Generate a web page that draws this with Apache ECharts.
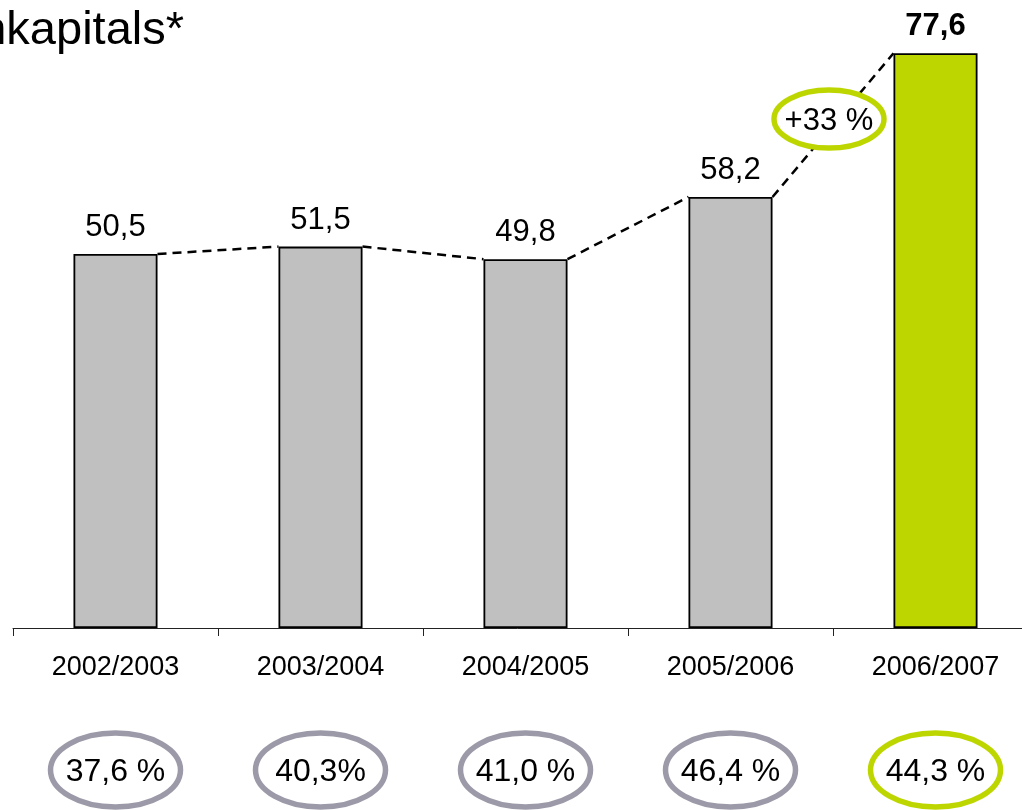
<!DOCTYPE html>
<html>
<head>
<meta charset="utf-8">
<script src="https://cdn.jsdelivr.net/npm/echarts@6/dist/echarts.min.js"></script>
<style>
html,body{margin:0;padding:0;background:#fff;}
#main{width:1022px;height:810px;}
</style>
</head>
<body>
<div id="main"></div>
<script>
const titleText = 'Eigenkapitals*';
const categories = ['2002/2003', '2003/2004', '2004/2005', '2005/2006', '2006/2007'];
const values = [50.5, 51.5, 49.8, 58.2, 77.6];
const ratios = ['37,6 %', '40,3%', '41,0 %', '46,4 %', '44,3 %'];
const highlightIndex = 4;
const growthLabel = '+33 %';
const growthSegment = 3;

const GRAY = '#c0c0c0';
const GREEN = '#bed600';
const RING_GRAY = '#9c9aa8';
const FONT = 'Liberation Sans, Arial, sans-serif';
const BAR_RATIO = 0.41;

const fmt = v => v.toFixed(1).replace('.', ',');

const segData = [];
for (let i = 0; i < values.length - 1; i++) segData.push([i, values[i], values[i + 1]]);

const chart = echarts.init(document.getElementById('main'));
chart.setOption({
  animation: false,
  backgroundColor: '#fff',
  grid: { left: 13, width: 1025, top: 35.5, height: 592.5, containLabel: false, outerBoundsMode: 'none' },
  xAxis: {
    type: 'category',
    data: categories,
    axisLine: { lineStyle: { color: '#222', width: 1 } },
    axisTick: { show: true, length: 8, lineStyle: { color: '#222' } },
    axisLabel: { color: '#000', fontSize: 27, fontFamily: FONT, margin: 26 }
  },
  yAxis: { type: 'value', min: 0, max: 80, show: false, splitLine: { show: false } },
  graphic: [{
    type: 'text', right: 1022 - 184, top: 8,
    style: { text: titleText, fontSize: 47, fontFamily: FONT, fill: '#000', textAlign: 'right' }
  }],
  series: [
    {
      type: 'bar',
      data: values.map((v, i) => ({
        value: v,
        itemStyle: { color: i === highlightIndex ? GREEN : GRAY },
        label: i === highlightIndex ? { fontWeight: 'bold' } : {}
      })),
      barWidth: (BAR_RATIO * 100) + '%',
      itemStyle: { borderColor: '#000', borderWidth: 1.8 },
      label: {
        show: true, position: 'top', distance: 11,
        formatter: p => fmt(p.value),
        color: '#000', fontSize: 31, fontFamily: FONT
      },
      z: 3
    },
    {
      type: 'custom',
      data: segData,
      z: 4,
      renderItem: (params, api) => {
        const i = api.value(0);
        const p0 = api.coord([i, api.value(1)]);
        const p1 = api.coord([i + 1, api.value(2)]);
        const half = api.size([1, 0])[0] * BAR_RATIO / 2;
        const x0 = p0[0] + half, y0 = p0[1];
        const x1 = p1[0] - half, y1 = p1[1];
        const children = [{
          type: 'line',
          shape: { x1: x0, y1: y0, x2: x1, y2: y1 },
          style: { stroke: '#000', lineWidth: 2.5, lineDash: [9, 6] }
        }];
        if (i === growthSegment) {
          const cx = (x0 + x1) / 2 - 4, cy = (y0 + y1) / 2 - 6;
          children.push({
            type: 'ellipse',
            shape: { cx: cx, cy: cy, rx: 55, ry: 29 },
            style: { fill: '#fff', stroke: GREEN, lineWidth: 5.5 }
          });
          children.push({
            type: 'text',
            style: { text: growthLabel, x: cx, y: cy + 2, textAlign: 'center', textVerticalAlign: 'middle',
              fontSize: 31, fontFamily: FONT, fill: '#000' }
          });
        }
        return { type: 'group', children: children };
      }
    },
    {
      type: 'custom',
      data: ratios.map((r, i) => [i, 0]),
      z: 4,
      clip: false,
      renderItem: (params, api) => {
        const i = api.value(0);
        const p = api.coord([i, 0]);
        const cy = p[1] + 142;
        return {
          type: 'group',
          children: [{
            type: 'ellipse',
            shape: { cx: p[0], cy: cy, rx: 65, ry: 37 },
            style: { fill: '#fff', stroke: i === highlightIndex ? GREEN : RING_GRAY, lineWidth: 5.5 }
          }, {
            type: 'text',
            style: { text: ratios[i], x: p[0], y: cy + 2, textAlign: 'center', textVerticalAlign: 'middle',
              fontSize: 32, fontFamily: FONT, fill: '#000' }
          }]
        };
      }
    }
  ]
});
</script>
</body>
</html>
